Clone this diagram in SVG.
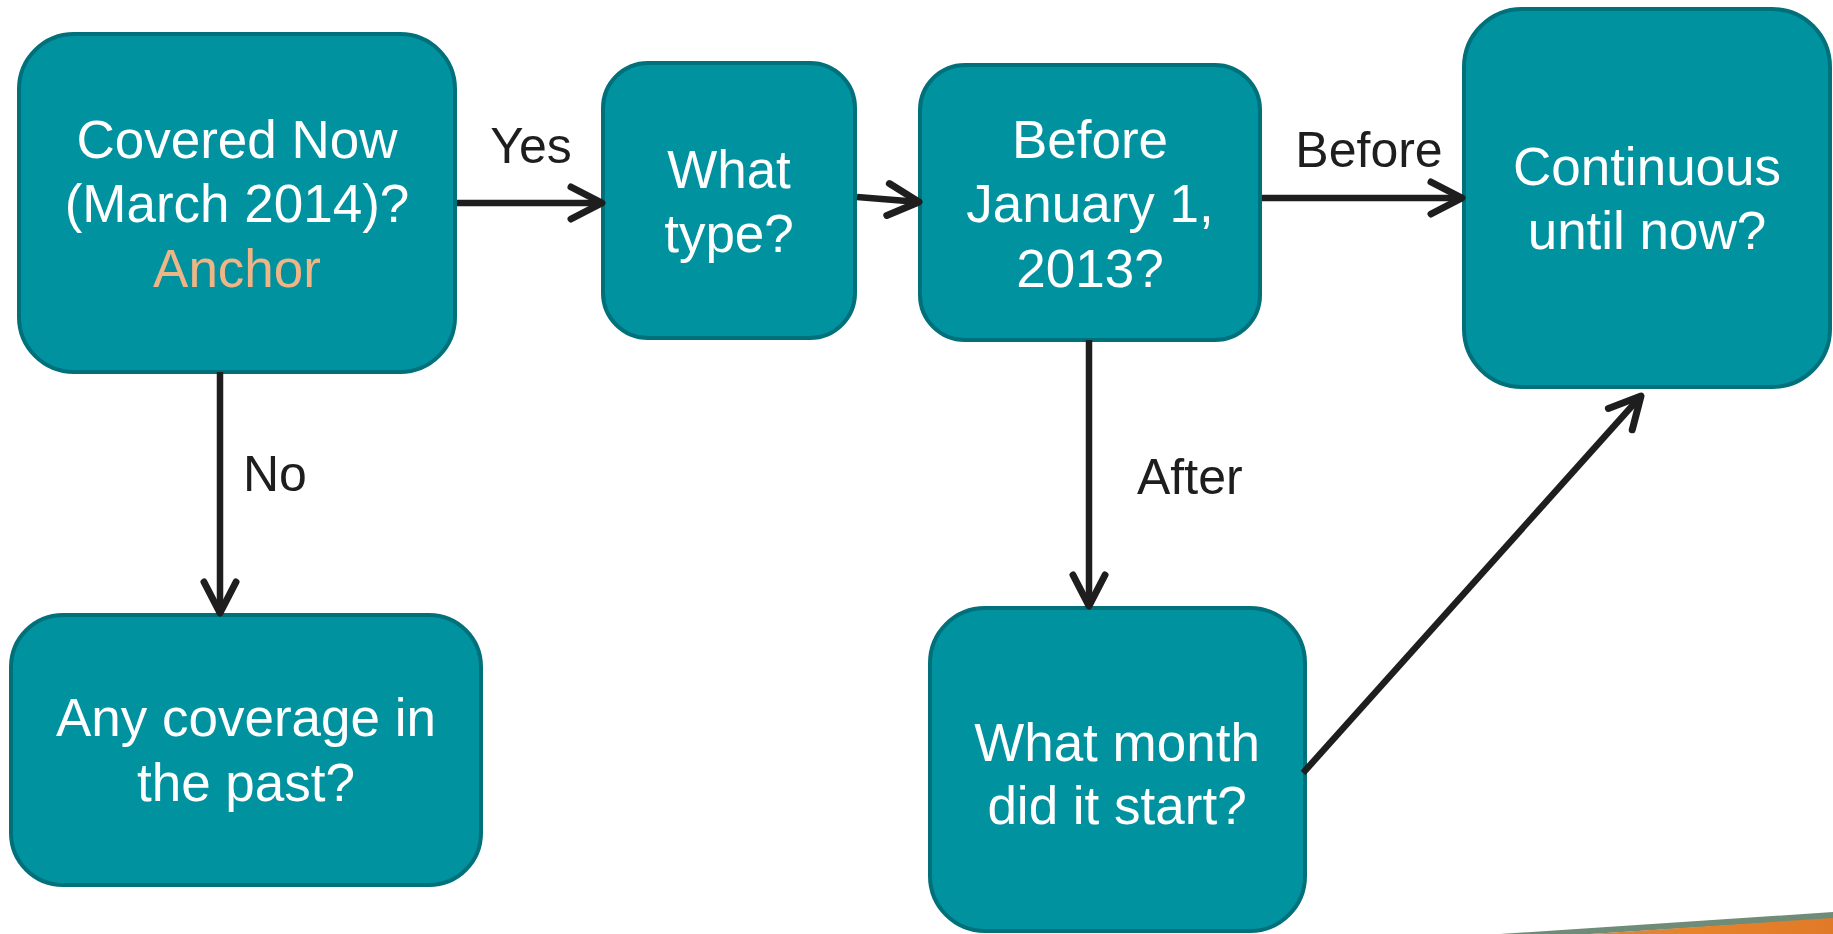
<svg xmlns="http://www.w3.org/2000/svg" width="1833" height="934" viewBox="0 0 1833 934">
<defs>
<style>
.node{fill:#00929F;stroke:#00707A;stroke-width:4}
.nt{fill:#FFFFFF;font-family:"Liberation Sans",Arial,sans-serif;font-size:53px;text-anchor:middle}
.anchor{fill:#EEB587}
.lbl{fill:#1E1E1E;font-family:"Liberation Sans",Arial,sans-serif;font-size:50px}
.con{stroke:#1E1E1E;stroke-width:6.5;fill:none;marker-end:url(#arr)}
</style>
<marker id="arr" viewBox="-40 -22 46 44" markerWidth="46" markerHeight="44" refX="0" refY="0" orient="auto" markerUnits="userSpaceOnUse">
<path d="M-31,-16 L0,0 L-31,16" fill="none" stroke="#1E1E1E" stroke-width="7" stroke-linecap="round" stroke-linejoin="round"/>
</marker>
<linearGradient id="sw" x1="0" y1="0" x2="1" y2="0">
<stop offset="0" stop-color="#C98A4E"/>
<stop offset="0.4" stop-color="#E8832C"/>
<stop offset="1" stop-color="#E07A28"/>
</linearGradient>
</defs>
<rect width="1833" height="934" fill="#FFFFFF"/>
<g id="swoosh">
<polygon points="1500,934 1833,912 1833,919 1590,934" fill="#6E8C78"/>
<polygon points="1590,934 1833,918 1833,934" fill="url(#sw)"/>
</g>
<g id="node-covered">
<rect class="node" x="19" y="34" width="436" height="338" rx="55" ry="55"/>
<text class="nt" x="237" y="158">Covered Now</text>
<text class="nt" x="237" y="222">(March 2014)?</text>
<text class="nt anchor" x="237" y="287">Anchor</text>
</g>
<g id="node-type">
<rect class="node" x="603" y="63" width="252" height="275" rx="45" ry="45"/>
<text class="nt" x="729" y="188">What</text>
<text class="nt" x="729" y="252">type?</text>
</g>
<g id="node-before">
<rect class="node" x="920" y="65" width="340" height="275" rx="45" ry="45"/>
<text class="nt" x="1090" y="158">Before</text>
<text class="nt" x="1090" y="222">January 1,</text>
<text class="nt" x="1090" y="287">2013?</text>
</g>
<g id="node-continuous">
<rect class="node" x="1464" y="9" width="366" height="378" rx="58" ry="58"/>
<text class="nt" x="1647" y="185">Continuous</text>
<text class="nt" x="1647" y="249">until now?</text>
</g>
<g id="node-past">
<rect class="node" x="11" y="615" width="470" height="270" rx="52" ry="52"/>
<text class="nt" x="246" y="736">Any coverage in</text>
<text class="nt" x="246" y="801">the past?</text>
</g>
<g id="node-month">
<rect class="node" x="930" y="608" width="375" height="323" rx="55" ry="55"/>
<text class="nt" x="1117" y="761">What month</text>
<text class="nt" x="1117" y="824">did it start?</text>
</g>
<g id="connectors">
<line class="con" x1="457" y1="203" x2="602" y2="203"/>
<line class="con" x1="857" y1="197" x2="919" y2="202"/>
<line class="con" x1="1262" y1="198" x2="1462" y2="198"/>
<line class="con" x1="220" y1="372" x2="220" y2="613"/>
<line class="con" x1="1089" y1="340" x2="1089" y2="606"/>
<line class="con" x1="1303" y1="773" x2="1641" y2="396"/>
<text class="lbl" x="531" y="163" text-anchor="middle">Yes</text>
<text class="lbl" x="1369" y="167" text-anchor="middle">Before</text>
<text class="lbl" x="243" y="491">No</text>
<text class="lbl" x="1137" y="494">After</text>
</g>
</svg>
